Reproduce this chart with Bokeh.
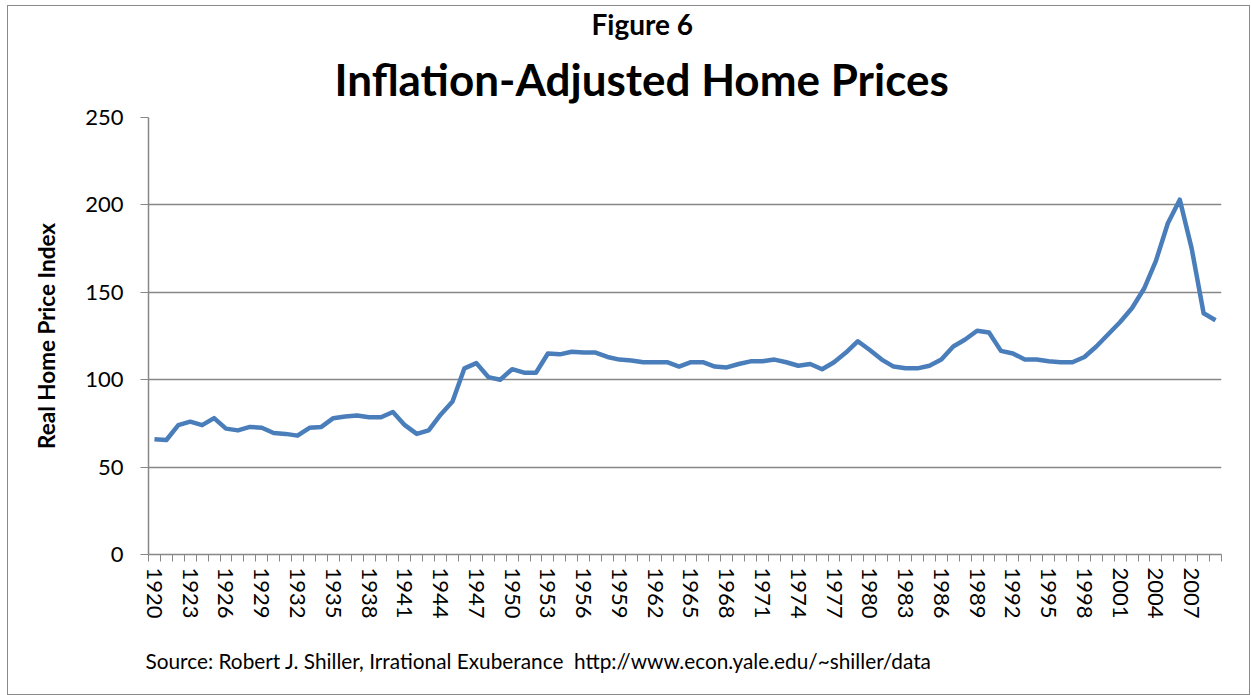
from bokeh.plotting import figure
from bokeh.models import Range1d, FixedTicker, Title
from bokeh.embed import file_html
from bokeh.resources import INLINE

years = list(range(1920, 2010))
index_values = [
    66, 65.5, 74, 76, 74, 78, 72, 71, 73, 72.5,
    69.5, 69, 68, 72.5, 73, 78, 79, 79.5, 78.5, 78.5,
    81.5, 74, 69, 71, 80, 87.5, 106.5, 109.5, 101.5, 100,
    106, 104, 104, 115, 114.5, 116, 115.5, 115.5, 113, 111.5,
    111, 110, 110, 110, 107.5, 110, 110, 107.5, 107, 109,
    110.5, 110.5, 111.5, 110, 108, 109, 106, 110, 115.5, 122,
    117, 111.5, 107.5, 106.5, 106.5, 108, 111.5, 119, 123, 128,
    127, 116.5, 115, 111.5, 111.5, 110.5, 110, 110, 113, 119,
    126, 133, 141, 152, 168, 189.5, 203, 175, 138, 134,
]
label_years = list(range(1920, 2010, 3))
y_ticks = [0, 50, 100, 150, 200, 250]

title_text = "Inflation-Adjusted Home Prices"
figure_text = "Figure 6"
y_label = "Real Home Price Index"
source_text = "Source: Robert J. Shiller, Irrational Exuberance\u00a0\u00a0http://www.econ.yale.edu/~shiller/data"

FONT = "Lato"
GREY = "#878787"

p = figure(width=1243, height=690, output_backend="svg", toolbar_location=None,
           x_range=Range1d(years[0] - 0.5, years[-1] + 0.5), y_range=Range1d(0, 250),
           min_border_left=140, min_border_right=30, min_border_top=111, min_border_bottom=140)
p.outline_line_color = None
p.styles = {"border": "1px solid #8a8a8a", "margin-left": "7px", "margin-top": "5px"}

p.line(years, index_values, line_color="#4a7ebb", line_width=4.5, line_join="round")

# x axis
p.xaxis.ticker = FixedTicker(ticks=label_years,
                             minor_ticks=[y - 0.5 for y in years] + [years[-1] + 0.5])
p.xaxis.major_tick_out = 0
p.xaxis.major_tick_in = 0
p.xaxis.minor_tick_out = 7
p.xaxis.minor_tick_in = 0
p.xaxis.minor_tick_line_color = GREY
p.xaxis.axis_line_color = GREY
p.xaxis.axis_line_width = 1.5
p.xaxis.major_label_orientation = "vertical"
p.xaxis.major_label_text_font = FONT
p.xaxis.major_label_text_font_size = "22px"
p.xaxis.major_label_text_color = "black"
p.xaxis.major_label_standoff = 6

# y axis
p.yaxis.ticker = FixedTicker(ticks=y_ticks)
p.yaxis.minor_tick_line_color = None
p.yaxis.major_tick_out = 8
p.yaxis.major_tick_in = 0
p.yaxis.major_tick_line_color = GREY
p.yaxis.axis_line_color = GREY
p.yaxis.axis_line_width = 1.5
p.yaxis.major_label_text_font = FONT
p.yaxis.major_label_text_font_size = "22px"
p.yaxis.major_label_text_color = "black"
p.yaxis.major_label_standoff = 17
p.yaxis.axis_label = y_label
p.yaxis.axis_label_text_font = FONT
p.yaxis.axis_label_text_font_style = "bold"
p.yaxis.axis_label_text_font_size = "22.5px"
p.yaxis.axis_label_text_color = "black"
p.yaxis.axis_label_standoff = 22

p.xgrid.grid_line_color = None
p.ygrid.grid_line_color = GREY
p.ygrid.grid_line_width = 1.5

p.add_layout(Title(text=title_text, align="left", offset=186, standoff=25,
                   text_font=FONT, text_font_size="44px", text_font_style="bold",
                   text_color="black"), "above")
p.add_layout(Title(text=figure_text, align="left", offset=443, standoff=-5,
                   text_font=FONT, text_font_size="28px", text_font_style="bold",
                   text_color="black"), "above")
p.add_layout(Title(text=source_text, align="left", offset=-3, standoff=48,
                   text_font=FONT, text_font_size="20.8px", text_font_style="normal",
                   text_color="black"), "below")

open("out.html", "w").write(file_html(p, INLINE))
